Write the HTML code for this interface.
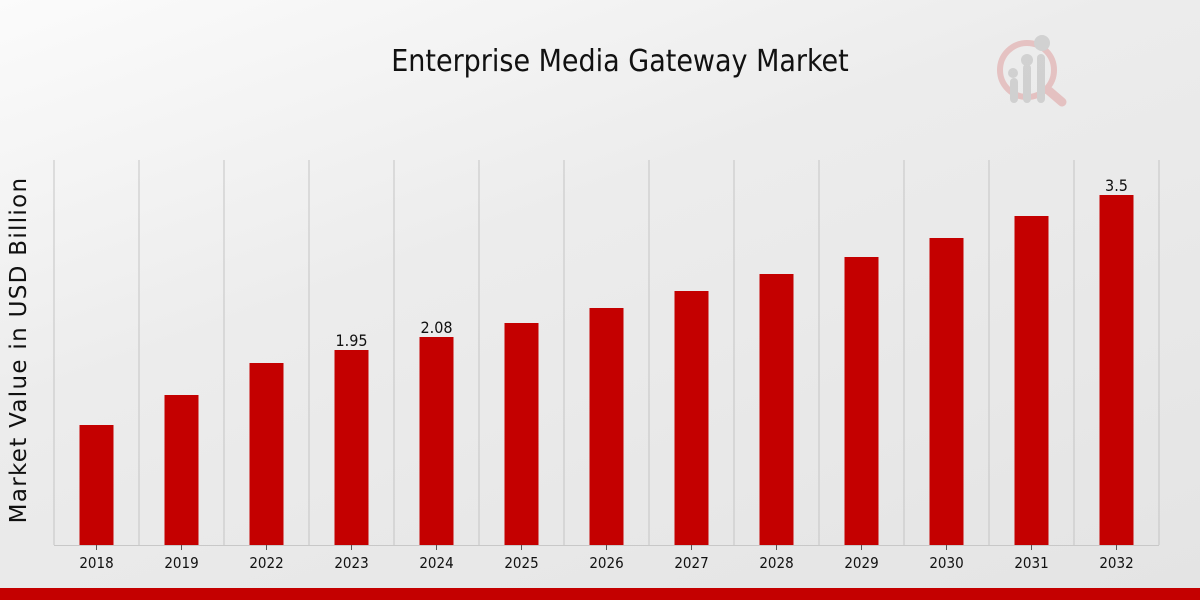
<!DOCTYPE html>
<html><head><meta charset="utf-8"><style>
html,body{margin:0;padding:0;width:1200px;height:600px;overflow:hidden}
body{background:linear-gradient(160deg,#fbfbfb 0%,#ececec 40%,#e4e4e4 100%);font-family:"DejaVu Sans Condensed","Liberation Sans Narrow","DejaVu Sans",sans-serif}
svg{position:absolute;left:0;top:0}
</style></head><body>
<svg id="chart" width="1200" height="600">
<text x="620" y="71" text-anchor="middle" font-size="30" font-stretch="condensed" fill="#111" style="font-family:'DejaVu Sans Condensed','Liberation Sans Narrow',sans-serif">Enterprise Media Gateway Market</text>
<text transform="translate(26,350) rotate(-90)" text-anchor="middle" font-size="23" letter-spacing="1.3" fill="#111" style="font-family:'DejaVu Sans',sans-serif">Market Value in USD Billion</text>
<g opacity="0.55">
<circle cx="1027" cy="70" r="27" fill="none" stroke="#e0a0a0" stroke-width="6"/>
<line x1="1048" y1="90" x2="1062" y2="102" stroke="#e0a0a0" stroke-width="9" stroke-linecap="round"/>
<rect x="1010" y="78" width="8" height="25" rx="4" fill="#bbb"/>
<rect x="1023" y="64" width="8" height="39" rx="4" fill="#bbb"/>
<rect x="1037" y="54" width="8" height="49" rx="4" fill="#bbb"/>
<circle cx="1013" cy="73" r="5" fill="#bbb"/><circle cx="1027" cy="60" r="6" fill="#bbb"/><circle cx="1042" cy="43" r="8" fill="#bbb"/>
</g>
<g id="grid"></g><g id="bars"></g><g id="labels"></g>
<rect x="0" y="588" width="1200" height="12" fill="#c40000"/>
</svg>
<script>
const categories=["2018","2019","2022","2023","2024","2025","2026","2027","2028","2029","2030","2031","2032"];
const values=[1.20,1.50,1.82,1.95,2.08,2.22,2.37,2.54,2.71,2.88,3.07,3.29,3.5];
const shownLabels=["","","","1.95","2.08","","","","","","","","3.5"];
const X0=54,X1=1159,Y0=545,pxPerUnit=100;
const step=(X1-X0)/categories.length;
function xBand(i){return X0+i*step;}
function yScale(v){return Y0-v*pxPerUnit;}
const NS="http://www.w3.org/2000/svg";
const grid=document.getElementById('grid'),bars=document.getElementById('bars'),labels=document.getElementById('labels');
function mk(tag,attrs,parent){const e=document.createElementNS(NS,tag);for(const k in attrs)e.setAttribute(k,attrs[k]);parent.appendChild(e);return e;}
for(let i=0;i<=categories.length;i++){
  const l=mk('line',{x1:xBand(i),x2:xBand(i),y1:160,y2:Y0,stroke:'#c4c4c4','stroke-width':1},grid);
  
  
}
const ax=mk('line',{x1:X0,x2:X1,y1:Y0+0.5,y2:Y0+0.5,stroke:'#c8c8c8','stroke-width':1},grid);


categories.forEach((c,i)=>{
  const cx=xBand(i)+step/2;
  const r=mk('rect',{x:cx-17,y:yScale(values[i]),width:34,height:Y0-yScale(values[i]),fill:'#c40000'},bars);
  
  
  const t=mk('line',{x1:cx,x2:cx,y1:Y0,y2:Y0+5,stroke:'#555'},grid);
  
  
  const tl=mk('text',{x:cx,y:568,'text-anchor':'middle','font-size':15,fill:'#111'},labels);
  tl.textContent=c;
  
  
  if(shownLabels[i]){
    const vl=mk('text',{x:cx,y:yScale(values[i])-4,'text-anchor':'middle','font-size':16,fill:'#111'},labels);
    vl.textContent=shownLabels[i];
    
    
  }
});
</script>
</body></html>
